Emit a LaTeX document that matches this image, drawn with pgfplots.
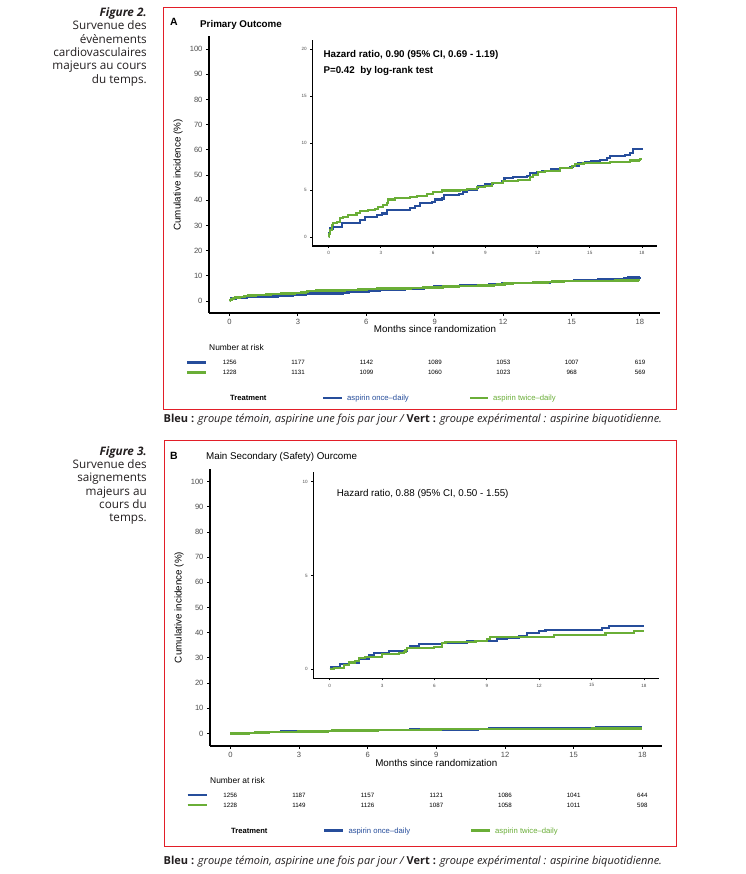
\documentclass[border=0pt]{standalone}
\usepackage{fontspec}
\setmainfont{Liberation Sans}
\newfontfamily\capfont{Open Sans}
\usepackage{pgfplots}
\usepackage{pgfplotstable}
\pgfplotsset{compat=1.18}
\definecolor{blueC}{RGB}{38,77,155}
\definecolor{greenC}{RGB}{106,174,55}
\definecolor{frameRed}{RGB}{226,30,40}
\definecolor{tickgray}{RGB}{77,77,77}
\definecolor{capText}{RGB}{35,31,32}

\pgfplotstableread{
t v
0 0
0.03 0.4
0.06 0.7
0.08 0.9
0.27 1.1
0.75 1.5
1.8 1.8
2.1 2.1
2.76 2.35
3.05 2.5
3.33 2.9
4.67 3.06
4.96 3.3
5.25 3.6
5.92 3.77
6.1 4.0
6.5 4.1
6.6 4.5
7.5 4.6
7.7 4.84
7.93 5.0
8.5 5.2
8.6 5.45
9.0 5.66
9.46 5.8
9.94 6.0
10.1 6.26
10.6 6.44
11.4 6.5
11.57 6.8
11.95 6.9
12.24 7.08
12.8 7.22
13.3 7.33
13.87 7.44
14.06 7.58
14.35 7.86
14.73 7.97
15.1 8.1
15.6 8.2
15.98 8.4
16.17 8.65
17.0 8.75
17.3 8.93
17.5 9.36
18.0 9.47
}\Ablue

\pgfplotstableread{
t v
0 0
0.03 0.35
0.08 0.75
0.17 1.28
0.27 1.46
0.46 1.64
0.65 2.0
0.84 2.17
1.13 2.35
1.6 2.6
1.8 2.8
2.28 2.88
2.66 3.0
2.85 3.24
3.14 3.4
3.33 3.67
3.43 4.0
3.81 4.13
4.67 4.23
5.06 4.38
5.63 4.6
6.0 4.8
6.5 4.95
7.55 5.0
7.93 5.16
8.5 5.3
8.98 5.44
9.37 5.8
10.04 6.0
10.9 6.08
11.57 6.44
11.76 6.62
12.05 6.97
12.43 7.08
13.3 7.33
13.97 7.58
14.16 7.79
14.64 7.86
16.17 7.97
16.93 8.04
17.3 8.15
17.8 8.22
17.9 8.33
18.0 8.33
}\Agreen

\pgfplotstableread{
t v
0 0
0.08 0.14
0.57 0.27
1.09 0.36
1.66 0.53
2.24 0.76
2.52 0.85
3.38 0.98
4.43 1.15
4.62 1.26
5.1 1.33
6.44 1.39
7.87 1.53
9.6 1.6
10.17 1.65
10.83 1.79
11.31 1.95
11.98 2.04
12.36 2.11
15.61 2.22
16.0 2.33
18.0 2.33
}\Bblue

\pgfplotstableread{
t v
0 0
0.23 0.09
0.8 0.23
1.09 0.36
1.47 0.46
1.66 0.59
2.04 0.67
2.98 0.8
3.96 0.89
4.24 0.94
4.34 1.03
4.43 1.12
5.96 1.21
6.44 1.39
6.63 1.47
8.35 1.53
9.02 1.6
9.2 1.74
12.84 1.83
15.8 1.95
17.43 2.06
18.0 2.06
}\Bgreen

\pgfplotsset{
  km/.style={
    scale only axis, anchor=south west,
    axis x line*=bottom, axis y line*=left,
    tick align=outside,
    axis line style={line width=1.2pt, black},
    tick style={black, line width=0.9pt},
    /pgf/number format/assume math mode=true,
    xtick={0,3,...,18},
  },
  mainkm/.style={km, major tick length=3pt,
    tick label style={font=\fontsize{7.6}{8}\selectfont, text=tickgray},
    width=451pt, height=277pt, xmin=-0.9, xmax=18.88,
    ytick={0,10,...,100}},
  insetkm/.style={km, major tick length=2pt,
    tick label style={font=\fontsize{4.6}{5}\selectfont, text=tickgray},
    width=345pt, height=206pt, xmin=-0.94, xmax=18.88},
}

\begin{document}
\begin{tikzpicture}[x=1pt,y=1pt]
\fill[white] (0,0) rectangle (745,874);

% ---------- left captions ----------
\begin{scope}[every node/.style={anchor=base east, inner sep=0pt, font=\capfont\fontsize{11.7}{13}\selectfont, text=capText}]
\node at (147,{874-16.4}) {\bfseries\itshape Figure 2.};
\node at (147,{874-29.8}) {Survenue des};
\node at (147,{874-43.2}) {évènements};
\node at (147,{874-56.6}) {cardiovasculaires};
\node at (147,{874-70.0}) {majeurs au cours};
\node at (147,{874-83.4}) {du temps.};
\node at (147,{874-455.4}) {\bfseries\itshape Figure 3.};
\node at (147,{874-468.7}) {Survenue des};
\node at (147,{874-482.0}) {saignements};
\node at (147,{874-495.3}) {majeurs au};
\node at (147,{874-508.6}) {cours du};
\node at (147,{874-521.9}) {temps.};
\end{scope}

% ---------- frames ----------
\draw[frameRed, line width=1pt] (163.5,{874-7.5}) rectangle (676,{874-409.5});
\draw[frameRed, line width=1pt] (164,{874-441}) rectangle (676,{874-846.5});

% ---------- bottom captions ----------
\node[anchor=base west, inner sep=0pt, font=\capfont\fontsize{11}{12}\selectfont, text=capText] at (163.5,{874-423})
 {\bfseries Bleu :\mdseries\itshape{} groupe témoin, aspirine une fois par jour / \upshape\bfseries Vert :\mdseries\itshape{} groupe expérimental : aspirine biquotidienne.};
\node[anchor=base west, inner sep=0pt, font=\capfont\fontsize{11}{12}\selectfont, text=capText] at (163.5,{874-864.4})
 {\bfseries Bleu :\mdseries\itshape{} groupe témoin, aspirine une fois par jour / \upshape\bfseries Vert :\mdseries\itshape{} groupe expérimental : aspirine biquotidienne.};

% ================= PANEL A =================
\node[anchor=mid west, inner sep=0pt, font=\bfseries\fontsize{10.5}{12}\selectfont] at (170,{874-23.3}) {A};
\node[anchor=mid west, inner sep=0pt, font=\bfseries\fontsize{9.8}{12}\selectfont] at (200,{874-25}) {Primary Outcome};

\begin{axis}[mainkm, at={(209pt,561pt)}, ymin=-4.76, ymax=105.2]
\addplot[const plot, blueC, line width=2.5pt] table {\Ablue};
\addplot[const plot, greenC, line width=2.5pt] table {\Agreen};
\end{axis}

\begin{axis}[insetkm, at={(312.3pt,628pt)}, ymin=-0.96, ymax=21.0, ytick={0,5,...,20}]
\addplot[const plot, blueC, line width=2.1pt] table {\Ablue};
\addplot[const plot, greenC, line width=2.1pt] table {\Agreen};
\end{axis}

\node[anchor=mid west, inner sep=0pt, font=\bfseries\fontsize{9.8}{12}\selectfont] at (323.3,{874-55}) {Hazard ratio, 0.90 (95\% CI, 0.69 - 1.19)};
\node[anchor=mid west, inner sep=0pt, font=\bfseries\fontsize{9.8}{12}\selectfont] at (323.3,{874-70.7}) {P=0.42\ \ by log-rank test};

\node[rotate=90, inner sep=0pt, font=\fontsize{9.8}{12}\selectfont] at (178,{874-175}) {Cumulative incidence (\%)};
\node[anchor=mid, inner sep=0pt, font=\fontsize{9.8}{12}\selectfont] at (435,{874-330}) {Months since randomization};

\node[anchor=mid west, inner sep=0pt, font=\fontsize{8.4}{10}\selectfont] at (209,{874-348}) {Number at risk};
\draw[blueC, line width=2.6pt] (187,{874-362.3}) -- (206,{874-362.3});
\draw[greenC, line width=2.6pt] (187,{874-372.3}) -- (206,{874-372.3});
\foreach \m/\a/\b in {0/1256/1228, 3/1177/1131, 6/1142/1099, 9/1089/1060, 12/1053/1023, 15/1007/968, 18/619/569} {
  \node[inner sep=0pt, font=\fontsize{6.2}{7}\selectfont] at ({229.7+22.8*\m},{874-362.3}) {\a};
  \node[inner sep=0pt, font=\fontsize{6.2}{7}\selectfont] at ({229.7+22.8*\m},{874-372.3}) {\b};
}
\node[anchor=mid west, inner sep=0pt, font=\bfseries\fontsize{7.6}{9}\selectfont] at (230,{874-398}) {Treatment};
\draw[blueC, line width=2.6pt] (323,{874-398}) -- (342,{874-398});
\node[anchor=mid west, inner sep=0pt, text=blueC, font=\fontsize{7.7}{9}\selectfont] at (347,{874-398}) {aspirin once--daily};
\draw[greenC, line width=2.6pt] (470,{874-398}) -- (488,{874-398});
\node[anchor=mid west, inner sep=0pt, text=greenC, font=\fontsize{7.7}{9}\selectfont] at (493,{874-398}) {aspirin twice--daily};

% ================= PANEL B =================
\node[anchor=mid west, inner sep=0pt, font=\bfseries\fontsize{10.5}{12}\selectfont] at (170,{874-456.7}) {B};
\node[anchor=mid west, inner sep=0pt, font=\fontsize{9.8}{12}\selectfont] at (206,{874-457}) {Main Secondary (Safety) Ourcome};

\begin{axis}[mainkm, at={(210pt,128pt)}, width=452pt, xmin=-0.89, xmax=18.86, ymin=-4.96, ymax=105]
\addplot[const plot, blueC, line width=2.5pt] table {\Bblue};
\addplot[const plot, greenC, line width=2.5pt] table {\Bgreen};
\end{axis}

\begin{axis}[insetkm, at={(313.3pt,195.7pt)}, width=346pt, height=206.6pt, ymin=-0.48, ymax=10.53, ytick={0,5,10}]
\addplot[const plot, blueC, line width=2.1pt] table {\Bblue};
\addplot[const plot, greenC, line width=2.1pt] table {\Bgreen};
\end{axis}

\node[anchor=mid west, inner sep=0pt, font=\fontsize{9.8}{12}\selectfont] at (336.7,{874-494}) {Hazard ratio, 0.88 (95\% CI, 0.50 - 1.55)};

\node[rotate=90, inner sep=0pt, font=\fontsize{9.8}{12}\selectfont] at (179,{874-607.5}) {Cumulative incidence (\%)};
\node[anchor=mid, inner sep=0pt, font=\fontsize{9.8}{12}\selectfont] at (436.3,{874-764}) {Months since randomization};

\node[anchor=mid west, inner sep=0pt, font=\fontsize{8.4}{10}\selectfont] at (210,{874-780.7}) {Number at risk};
\draw[blueC, line width=2.6pt] (187.7,{874-795}) -- (206.7,{874-795});
\draw[greenC, line width=2.6pt] (187.7,{874-805}) -- (206.7,{874-805});
\foreach \m/\a/\b in {0/1256/1228, 3/1187/1149, 6/1157/1126, 9/1121/1087, 12/1086/1058, 15/1041/1011, 18/644/598} {
  \node[inner sep=0pt, font=\fontsize{6.2}{7}\selectfont] at ({230.3+22.89*\m},{874-795}) {\a};
  \node[inner sep=0pt, font=\fontsize{6.2}{7}\selectfont] at ({230.3+22.89*\m},{874-805}) {\b};
}
\node[anchor=mid west, inner sep=0pt, font=\bfseries\fontsize{7.6}{9}\selectfont] at (231,{874-830.7}) {Treatment};
\draw[blueC, line width=2.6pt] (324,{874-830.7}) -- (342.7,{874-830.7});
\node[anchor=mid west, inner sep=0pt, text=blueC, font=\fontsize{7.7}{9}\selectfont] at (348.3,{874-830.7}) {aspirin once--daily};
\draw[greenC, line width=2.6pt] (471,{874-830.7}) -- (490,{874-830.7});
\node[anchor=mid west, inner sep=0pt, text=greenC, font=\fontsize{7.7}{9}\selectfont] at (495,{874-830.7}) {aspirin twice--daily};

\end{tikzpicture}
\end{document}
